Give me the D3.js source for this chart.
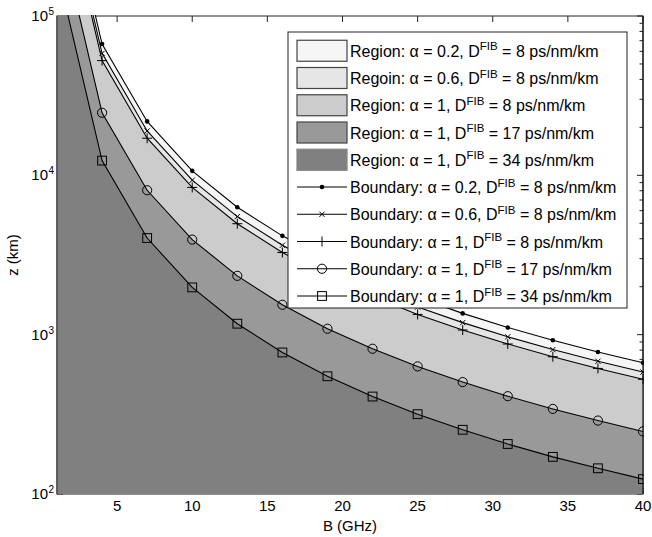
<!DOCTYPE html>
<html>
<head>
<meta charset="utf-8">
<script src="https://cdn.jsdelivr.net/npm/d3@7"></script>
<style>
  body { margin: 0; background: #fff; }
  text { font-family: "Liberation Sans", Arial, Helvetica, sans-serif; fill: #000; }
</style>
</head>
<body>
<svg id="chart" width="652" height="537"></svg>
<script>
// Bandwidth samples (GHz)
var bandwidth = [1, 4, 7, 10, 13, 16, 19, 22, 25, 28, 31, 34, 37, 40];

// Max reach z (km)
var zA02D8 = [1067000, 66700, 21800, 10670, 6310, 4170, 2960, 2200, 1710, 1360, 1110, 923, 779, 667];
var zA06D8 = [932000, 58250, 19000, 9320, 5510, 3640, 2580, 1930, 1490, 1190, 970, 806, 681, 583];
var zA1D8  = [840000, 52500, 17100, 8400, 4970, 3280, 2330, 1740, 1340, 1070, 874, 727, 614, 525];
var zA1D17 = [395000, 24700, 8060, 3950, 2340, 1540, 1090, 816, 632, 504, 411, 342, 289, 247];
var zA1D34 = [198000, 12375, 4041, 1980, 1172, 773, 548, 409, 317, 253, 206, 171, 145, 124];

var seriesValues = [zA02D8, zA06D8, zA1D8, zA1D17, zA1D34];
var regionColors = ["#f6f6f6", "#e6e6e6", "#cccccc", "#999999", "#808080"];
var markerTypes = ["dot", "x", "plus", "circle", "square"];

var regionLabels = [
  ["Region: \u03b1 = 0.2, D", " = 8 ps/nm/km"],
  ["Regoin: \u03b1 = 0.6, D", " = 8 ps/nm/km"],
  ["Region: \u03b1 = 1, D", " = 8 ps/nm/km"],
  ["Region: \u03b1 = 1, D", " = 17 ps/nm/km"],
  ["Region: \u03b1 = 1, D", " = 34 ps/nm/km"]
];
var boundaryLabels = [
  ["Boundary: \u03b1 = 0.2, D", " = 8 ps/nm/km"],
  ["Boundary: \u03b1 = 0.6, D", " = 8 ps/nm/km"],
  ["Boundary: \u03b1 = 1, D", " = 8 ps/nm/km"],
  ["Boundary: \u03b1 = 1, D", " = 17 ps/nm/km"],
  ["Boundary: \u03b1 = 1, D", " = 34 ps/nm/km"]
];

var xTicks = [5, 10, 15, 20, 25, 30, 35, 40];
var yTickExponents = [2, 3, 4, 5];

// Layout
var plotLeft = 57, plotRight = 643, plotTop = 16, plotBottom = 494;
var fontSize = 15;
var legendFontSize = 16;

var svg = d3.select("#chart");

var xScale = d3.scaleLinear().domain([1, 40]).range([plotLeft, plotRight]);
var yScale = d3.scaleLog().domain([100, 100000]).range([plotBottom, plotTop]);

// minor ticks for log axis
var minorY = [];
yTickExponents.slice(0, -1).forEach(function(e) {
  for (var k = 2; k <= 9; k++) minorY.push(k * Math.pow(10, e));
});

/**
 * Axes box and ticks (drawn first, fills cover them like in the original)
 */
var axes = svg.append("g").attr("stroke", "#222").attr("stroke-width", 1);

axes.append("rect")
  .attr("x", plotLeft).attr("y", plotTop)
  .attr("width", plotRight - plotLeft).attr("height", plotBottom - plotTop)
  .attr("fill", "none");

xTicks.forEach(function(t) {
  var x = xScale(t);
  axes.append("line").attr("x1", x).attr("x2", x).attr("y1", plotBottom).attr("y2", plotBottom - 6);
  axes.append("line").attr("x1", x).attr("x2", x).attr("y1", plotTop).attr("y2", plotTop + 6);
});

yTickExponents.forEach(function(e) {
  var y = yScale(Math.pow(10, e));
  axes.append("line").attr("x1", plotLeft).attr("x2", plotLeft + 6).attr("y1", y).attr("y2", y);
  axes.append("line").attr("x1", plotRight).attr("x2", plotRight - 6).attr("y1", y).attr("y2", y);
});

minorY.forEach(function(v) {
  var y = yScale(v);
  axes.append("line").attr("x1", plotLeft).attr("x2", plotLeft + 3.5).attr("y1", y).attr("y2", y);
  axes.append("line").attr("x1", plotRight).attr("x2", plotRight - 3.5).attr("y1", y).attr("y2", y);
});

/**
 * Regions and boundaries
 */
svg.append("clipPath").attr("id", "plot-clip")
  .append("rect")
  .attr("x", plotLeft).attr("y", plotTop - 1)
  .attr("width", plotRight - plotLeft + 1).attr("height", plotBottom - plotTop + 1);

var plot = svg.append("g").attr("clip-path", "url(#plot-clip)");

var area = d3.area()
  .x(function(d) { return xScale(d[0]); })
  .y0(yScale(100))
  .y1(function(d) { return yScale(d[1]); });

var line = d3.line()
  .x(function(d) { return xScale(d[0]); })
  .y(function(d) { return yScale(d[1]); });

function pairs(values) {
  return bandwidth.map(function(b, i) { return [b, values[i]]; });
}

seriesValues.forEach(function(values, i) {
  plot.append("path")
    .datum(pairs(values))
    .attr("d", area)
    .attr("fill", regionColors[i])
    .attr("stroke", "none");
});

// Marker drawing
function drawMarker(g, type, x, y) {
  var m;
  if (type === "dot") {
    g.append("circle").attr("cx", x).attr("cy", y).attr("r", 2.3).attr("fill", "#000");
  } else if (type === "x") {
    m = 2.6;
    g.append("path")
      .attr("d", "M" + (x - m) + "," + (y - m) + "L" + (x + m) + "," + (y + m) +
                 "M" + (x - m) + "," + (y + m) + "L" + (x + m) + "," + (y - m))
      .attr("stroke", "#000").attr("stroke-width", 1);
  } else if (type === "plus") {
    m = 5;
    g.append("path")
      .attr("d", "M" + (x - m) + "," + y + "L" + (x + m) + "," + y +
                 "M" + x + "," + (y - m) + "L" + x + "," + (y + m))
      .attr("stroke", "#000").attr("stroke-width", 1);
  } else if (type === "circle") {
    g.append("circle").attr("cx", x).attr("cy", y).attr("r", 4.6)
      .attr("fill", "none").attr("stroke", "#000").attr("stroke-width", 1);
  } else if (type === "square") {
    m = 4.4;
    g.append("rect").attr("x", x - m).attr("y", y - m).attr("width", 2 * m).attr("height", 2 * m)
      .attr("fill", "none").attr("stroke", "#000").attr("stroke-width", 1);
  }
}

seriesValues.forEach(function(values, i) {
  var data = pairs(values);
  plot.append("path")
    .datum(data)
    .attr("d", line)
    .attr("fill", "none")
    .attr("stroke", "#000")
    .attr("stroke-width", 1.1);

  var markers = plot.append("g");
  data.forEach(function(d) {
    drawMarker(markers, markerTypes[i], xScale(d[0]), yScale(d[1]));
  });
});

// side borders stay visible over the fills
svg.append("line").attr("x1", plotLeft).attr("x2", plotLeft).attr("y1", plotTop).attr("y2", plotBottom)
  .attr("stroke", "#333").attr("stroke-width", 1);
svg.append("line").attr("x1", plotRight).attr("x2", plotRight).attr("y1", plotTop).attr("y2", plotBottom)
  .attr("stroke", "#111").attr("stroke-width", 1.2);

/**
 * Tick labels and axis titles
 */
svg.append("g").selectAll("text")
  .data(xTicks)
  .enter().append("text")
  .attr("x", function(d) { return xScale(d); })
  .attr("y", plotBottom + 17)
  .attr("text-anchor", "middle")
  .attr("font-size", fontSize)
  .text(function(d) { return d; });

svg.append("g").selectAll("text")
  .data(yTickExponents)
  .enter().append("text")
  .attr("x", 48)
  .attr("y", function(d) { return yScale(Math.pow(10, d)) + 5; })
  .attr("text-anchor", "end")
  .attr("font-size", fontSize)
  .text("10");

svg.append("g").selectAll("text")
  .data(yTickExponents)
  .enter().append("text")
  .attr("x", 48.5)
  .attr("y", function(d) { return yScale(Math.pow(10, d)) - 1; })
  .attr("font-size", 10)
  .text(function(d) { return d; });

svg.append("text")
  .attr("x", (plotLeft + plotRight) / 2)
  .attr("y", 531)
  .attr("text-anchor", "middle")
  .attr("font-size", fontSize)
  .text("B (GHz)");

svg.append("text")
  .attr("transform", "translate(18," + ((plotTop + plotBottom) / 2) + ") rotate(-90)")
  .attr("text-anchor", "middle")
  .attr("font-size", fontSize)
  .text("z (km)");

/**
 * Legend
 */
var legend = svg.append("g");
legend.append("rect")
  .attr("x", 288).attr("y", 32)
  .attr("width", 339).attr("height", 276)
  .attr("fill", "#fff")
  .attr("stroke", "#222")
  .attr("stroke-width", 1);

var rowStart = 50.75, rowStep = 27.25;
var sampleX0 = 297, sampleX1 = 347, textX = 350;

function legendText(row, parts) {
  var cy = rowStart + rowStep * row;
  var t = legend.append("text")
    .attr("x", textX)
    .attr("y", cy + 6)
    .attr("font-size", legendFontSize);
  t.append("tspan").text(parts[0]);
  t.append("tspan").attr("font-size", 11.5).attr("dy", -6.5).text("FIB");
  t.append("tspan").attr("dy", 6.5).text(parts[1]);
}

regionLabels.forEach(function(parts, i) {
  var cy = rowStart + rowStep * i;
  legend.append("rect")
    .attr("x", sampleX0).attr("y", cy - 10.5)
    .attr("width", sampleX1 - sampleX0).attr("height", 21)
    .attr("fill", regionColors[i])
    .attr("stroke", i === 4 ? regionColors[i] : "#444")
    .attr("stroke-width", 1.2);
  legendText(i, parts);
});

boundaryLabels.forEach(function(parts, i) {
  var row = i + 5;
  var cy = rowStart + rowStep * row;
  legend.append("line")
    .attr("x1", sampleX0).attr("x2", sampleX1)
    .attr("y1", cy).attr("y2", cy)
    .attr("stroke", "#000").attr("stroke-width", 1.1);
  drawMarker(legend, markerTypes[i], (sampleX0 + sampleX1) / 2, cy);
  legendText(row, parts);
});
</script>
</body>
</html>
